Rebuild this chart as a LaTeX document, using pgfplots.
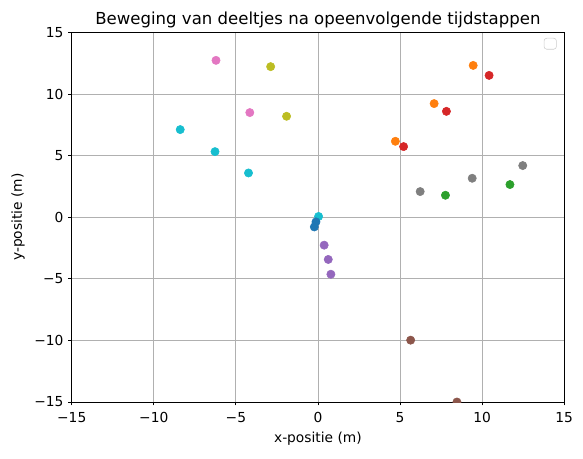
\documentclass[border=0pt]{standalone}
\usepackage{fontspec}
\setmainfont{DejaVu Sans}
\usepackage{pgfplots}
\pgfplotsset{compat=1.18}
\definecolor{c0}{HTML}{1F77B4}
\definecolor{c1}{HTML}{FF7F0E}
\definecolor{c2}{HTML}{2CA02C}
\definecolor{c3}{HTML}{D62728}
\definecolor{c4}{HTML}{9467BD}
\definecolor{c5}{HTML}{8C564B}
\definecolor{c6}{HTML}{E377C2}
\definecolor{c7}{HTML}{7F7F7F}
\definecolor{c8}{HTML}{BCBD22}
\definecolor{c9}{HTML}{17BECF}
\begin{document}
\begin{tikzpicture}
\begin{axis}[
  scale only axis,
  width=357pt, height=268pt,
  xmin=-15, xmax=15, ymin=-15, ymax=15,
  xtick={-15,-10,-5,0,5,10,15},
  ytick={-15,-10,-5,0,5,10,15},
  xticklabels={−15,−10,−5,0,5,10,15},
  yticklabels={−15,−10,−5,0,5,10,15},
  tick label style={font=\fontsize{10}{12}\selectfont},
  xticklabel style={yshift=-1.5pt},
  label style={font=\fontsize{10}{12}\selectfont},
  title style={font=\fontsize{12}{14}\selectfont, yshift=-6pt},
  title={Beweging van deeltjes na opeenvolgende tijdstappen},
  xlabel={x-positie (m)},
  ylabel={y-positie (m)},
  grid=major,
  major grid style={color={rgb,255:red,176;green,176;blue,176}, line width=0.58pt},
  axis line style={line width=0.58pt},
  tick style={black, line width=0.58pt},
  tick align=outside,
  major tick length=2.5pt,
  xtick pos=bottom, ytick pos=left,
  clip marker paths=true,
  legend style={at={(0.985,0.985)}, anchor=north east, draw={rgb,255:red,204;green,204;blue,204}, rounded corners=2pt, inner sep=0pt, minimum width=9pt, minimum height=8pt},
  every axis plot/.append style={only marks, mark=*, mark size=3pt, forget plot},
]
\addplot[c9, mark options={draw=c9, fill=c9}] coordinates {(0.04,0.06)};
\addplot[c0, mark options={draw=c0, fill=c0}] coordinates {(-0.12,-0.38) (-0.22,-0.79)};
\addplot[c1, mark options={draw=c1, fill=c1}] coordinates {(4.72,6.16) (7.08,9.22) (9.46,12.32)};
\addplot[c2, mark options={draw=c2, fill=c2}] coordinates {(7.77,1.78) (11.70,2.65)};
\addplot[c3, mark options={draw=c3, fill=c3}] coordinates {(5.22,5.73) (7.83,8.59) (10.43,11.51)};
\addplot[c4, mark options={draw=c4, fill=c4}] coordinates {(0.38,-2.27) (0.63,-3.43) (0.79,-4.63)};
\addplot[c5, mark options={draw=c5, fill=c5}] coordinates {(5.65,-9.98) (8.47,-15)};
\addplot[c6, mark options={draw=c6, fill=c6}] coordinates {(-6.21,12.73) (-4.15,8.49)};
\addplot[c7, mark options={draw=c7, fill=c7}] coordinates {(6.23,2.08) (9.40,3.16) (12.48,4.19)};
\addplot[c8, mark options={draw=c8, fill=c8}] coordinates {(-2.88,12.22) (-1.91,8.19)};
\addplot[c9, mark options={draw=c9, fill=c9}] coordinates {(-8.39,7.11) (-6.27,5.32) (-4.23,3.59)};
\addlegendimage{empty legend}
\addlegendentry{}
\end{axis}
\path (current bounding box.north east) ++(4pt,5pt) coordinate (ne);
\path (current bounding box.south west) ++(-5pt,-6pt) coordinate (sw);
\path (ne) (sw);
\end{tikzpicture}
\end{document}
